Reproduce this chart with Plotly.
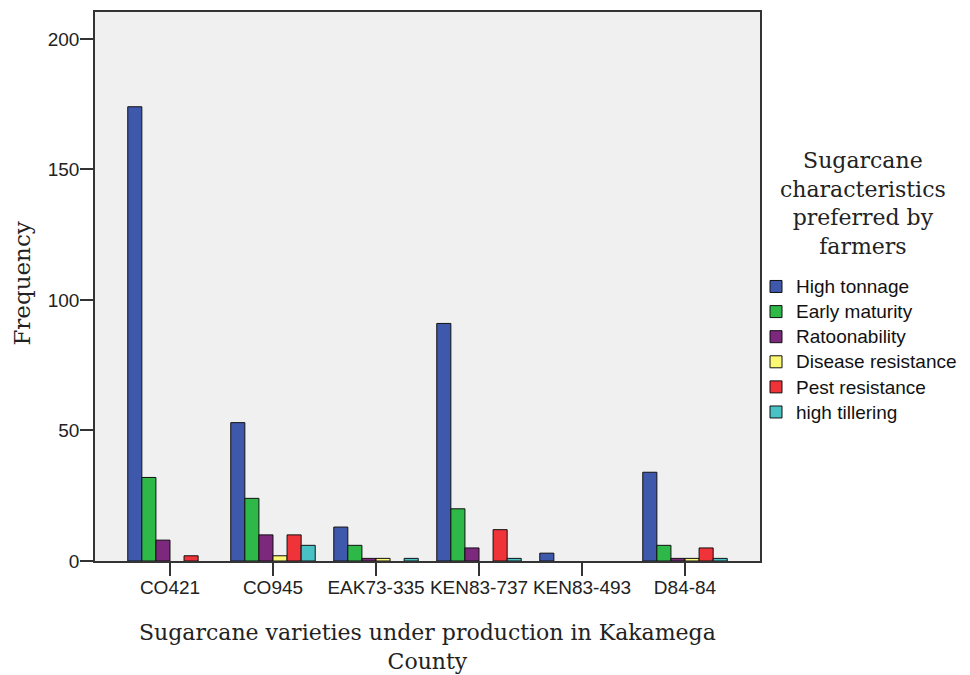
import plotly.graph_objects as go

varieties = ["CO421", "CO945", "EAK73-335", "KEN83-737", "KEN83-493", "D84-84"]
high_tonnage = [174, 53, 13, 91, 3, 34]
early_maturity = [32, 24, 6, 20, 0, 6]
ratoonability = [8, 10, 1, 5, 0, 1]
disease_resistance = [0, 2, 1, 0, 0, 1]
pest_resistance = [2, 10, 0, 12, 0, 5]
high_tillering = [0, 6, 1, 1, 0, 1]

series = [
    ("High tonnage", high_tonnage, "#3E58AC"),
    ("Early maturity", early_maturity, "#2EB848"),
    ("Ratoonability", ratoonability, "#7C287D"),
    ("Disease resistance", disease_resistance, "#FBF873"),
    ("Pest resistance", pest_resistance, "#EF3338"),
    ("high tillering", high_tillering, "#48C2C5"),
]

fig = go.Figure()
for name, vals, color in series:
    fig.add_trace(go.Bar(
        x=varieties, y=[v if v else None for v in vals],
        name="<span style='font-size:19px'>" + name + "</span>",
        marker=dict(color=color, line=dict(color="#111111", width=1)),
    ))

serif = "DejaVu Serif, serif"
sans = "Liberation Sans, Arial, sans-serif"

fig.update_layout(
    width=970, height=675,
    barmode="group", bargap=0.18, bargroupgap=0,
    paper_bgcolor="white", plot_bgcolor="#F0F0F0",
    margin=dict(l=87, r=218, t=2, b=122),
    font=dict(family=sans, size=19, color="#222222"),
    showlegend=True,
    legend=dict(
        x=0.994, xanchor="left", y=0.532, yanchor="top",
        font=dict(family=sans, size=17, color="#111111"),
        bgcolor="rgba(0,0,0,0)",
    ),
    xaxis=dict(
        ticks="outside", ticklen=13, tickcolor="#333333", tickwidth=1.5,
        showline=True, linecolor="#333333", linewidth=1.5, mirror=True,
        tickfont=dict(family=sans, size=19, color="#222222"),
        ticklabelstandoff=-5,
        range=[-0.728, 5.728],
    ),
    yaxis=dict(
        range=[0, 210.3], tickvals=[0, 50, 100, 150, 200],
        ticks="outside", ticklen=13, tickcolor="#333333", tickwidth=1.5,
        showline=True, linecolor="#333333", linewidth=1.5, mirror=True,
        showgrid=False, zeroline=False,
        ticklabelstandoff=-3,
        tickfont=dict(family=sans, size=19, color="#222222"),
    ),
    annotations=[
        dict(text="Sugarcane<br>characteristics<br>preferred by<br>farmers",
             xref="paper", yref="paper", x=1.155, y=0.756, xanchor="center", yanchor="top",
             align="center", showarrow=False,
             font=dict(family=serif, size=22, color="#222222")),
        dict(text="Sugarcane varieties under production in Kakamega<br>County",
             xref="paper", yref="paper", x=0.5, y=-0.103, xanchor="center", yanchor="top",
             align="center", showarrow=False,
             font=dict(family=serif, size=22, color="#222222")),
        dict(text="Frequency", textangle=-90,
             xref="paper", yref="paper", x=-0.11, y=0.505, xanchor="center", yanchor="middle",
             showarrow=False,
             font=dict(family=serif, size=23, color="#222222")),
    ],
)

fig.write_html("out.html")
